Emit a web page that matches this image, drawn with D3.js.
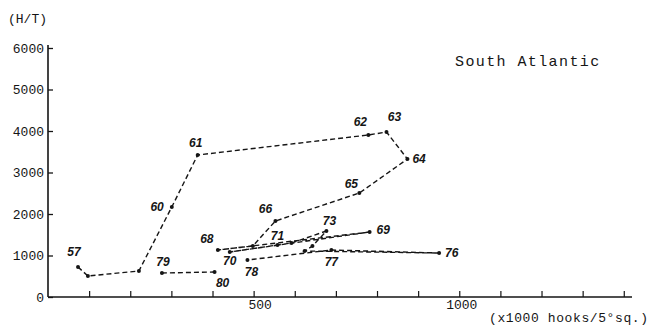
<!DOCTYPE html>
<html>
<head>
<meta charset="utf-8">
<script src="https://cdn.jsdelivr.net/npm/d3@7"></script>
<style>
  html, body { margin: 0; padding: 0; background: #fff; }
  svg { display: block; }
</style>
</head>
<body>
<script>
// ---- data ----
const years  = ["57","58","59","60","61","62","63","64","65","66","67","68","69","70","71","72","73","74","75","76","77","78","79","80"];
const effort = [73, 97, 221, 301, 364, 779, 823, 874, 757, 553, 498, 413, 782, 442, 558, 592, 677, 643, 624, 951, 689, 485, 277, 405];
const cpue   = [723, 506, 627, 2169, 3422, 3904, 3976, 3325, 2506, 1831, 1229, 1133, 1566, 1084, 1253, 1301, 1590, 1229, 1108, 1060, 1133, 892, 578, 602];
const labelledYears = ["57","60","61","62","63","64","65","66","68","69","70","71","73","76","77","78","79","80"];
const lineBreakBefore = ["79"];
const xTickValues = [100,200,300,400,500,600,700,800,900,1000,1100,1200,1300,1400];
const xTickLabels = ["500","1000"];
const yTickValues = [0,1000,2000,3000,4000,5000,6000];
const title = "South Atlantic";
const yTitle = "(H/T)";
const xTitle = "(x1000 hooks/5°sq.)";

// ---- drawing ----
const W = 651, H = 332;
const ink = "#151515";
const mono = "'Liberation Mono', 'DejaVu Sans Mono', monospace";

const svg = d3.select("body").append("svg").attr("width", W).attr("height", H);

const x = d3.scaleLinear().domain([0, 1420]).range([48, 632]);
const y = d3.scaleLinear().domain([0, 6000]).range([297, 48]);

// y axis
const yAxis = svg.append("g").attr("transform", `translate(${x(0)},0)`)
  .call(d3.axisLeft(y).tickValues(yTickValues).tickSize(-5).tickPadding(4)
        .tickFormat(d3.format("d")));
yAxis.select(".domain").attr("stroke", ink).attr("stroke-width", 1.6).attr("d", `M0,${y(0)}V${y(6000)-3}`);
yAxis.selectAll(".tick line").attr("stroke", ink).attr("stroke-width", 1.3);
yAxis.selectAll(".tick text").attr("fill", ink).style("font-family", mono).style("font-size", "13px");

// x axis
const xAxis = svg.append("g").attr("transform", `translate(0,${y(0)})`)
  .call(d3.axisBottom(x).tickValues(xTickValues).tickSize(-6).tickPadding(3)
        .tickFormat(d => xTickLabels.includes(String(d)) ? String(d) : ""));
xAxis.select(".domain").attr("stroke", ink).attr("stroke-width", 1.6).attr("d", `M${x(0)},0H${x(1420)}`);
xAxis.selectAll(".tick line").attr("stroke", ink).attr("stroke-width", 1.2);
xAxis.selectAll(".tick text").attr("fill", ink).style("font-family", mono).style("font-size", "13px")
  .attr("dx", d => d === 500 ? 6 : 2);

// titles
svg.append("text").attr("x", 8).attr("y", 23).text(yTitle)
  .attr("fill", ink).style("font-family", mono).style("font-size", "13px");
svg.append("text").attr("x", 455).attr("y", 66).text(title)
  .attr("fill", ink).style("font-family", mono).style("font-size", "15px").style("letter-spacing", "1.4px");
svg.append("text").attr("x", 489).attr("y", 322).text(xTitle)
  .attr("fill", ink).style("font-family", mono).style("font-size", "13px").style("letter-spacing", "0.6px");

// trajectory
const pts = years.map((yr, i) => ({ yr, x: effort[i], y: cpue[i] }));
const groups = [];
pts.forEach(p => {
  if (!groups.length || lineBreakBefore.includes(p.yr)) groups.push([]);
  groups[groups.length - 1].push(p);
});
const line = d3.line().x(d => x(d.x)).y(d => y(d.y));
svg.append("g").selectAll("path").data(groups).join("path")
  .attr("d", line).attr("fill", "none").attr("stroke", ink)
  .attr("stroke-width", 1.4).attr("stroke-dasharray", "5,3");

svg.append("g").selectAll("circle").data(pts).join("circle")
  .attr("cx", d => x(d.x)).attr("cy", d => y(d.y)).attr("r", 2)
  .attr("fill", ink);

// year labels (offsets in px from the point)
const off = {
  "57": [-4, -11, "middle"], "60": [-8, 4, "end"], "61": [-2, -8, "middle"],
  "62": [-8, -9, "middle"], "63": [8, -11, "middle"], "64": [5, 4, "start"],
  "65": [-8, -5, "middle"], "66": [-10, -8, "middle"], "68": [-11, -7, "middle"],
  "69": [7, 2, "start"], "70": [0, 13, "middle"], "71": [0, -5, "middle"],
  "73": [3, -6, "middle"], "76": [6, 4, "start"], "77": [0, 16, "middle"],
  "78": [4, 16, "middle"], "79": [1, -7, "middle"], "80": [8, 15, "middle"]
};
svg.append("g").selectAll("text").data(pts.filter(p => labelledYears.includes(p.yr))).join("text")
  .attr("x", d => x(d.x) + off[d.yr][0]).attr("y", d => y(d.y) + off[d.yr][1])
  .attr("text-anchor", d => off[d.yr][2])
  .text(d => d.yr)
  .attr("fill", ink)
  .style("font-family", "'Liberation Sans', Arial, sans-serif")
  .style("font-style", "italic").style("font-weight", "bold").style("font-size", "12px");
</script>
</body>
</html>
